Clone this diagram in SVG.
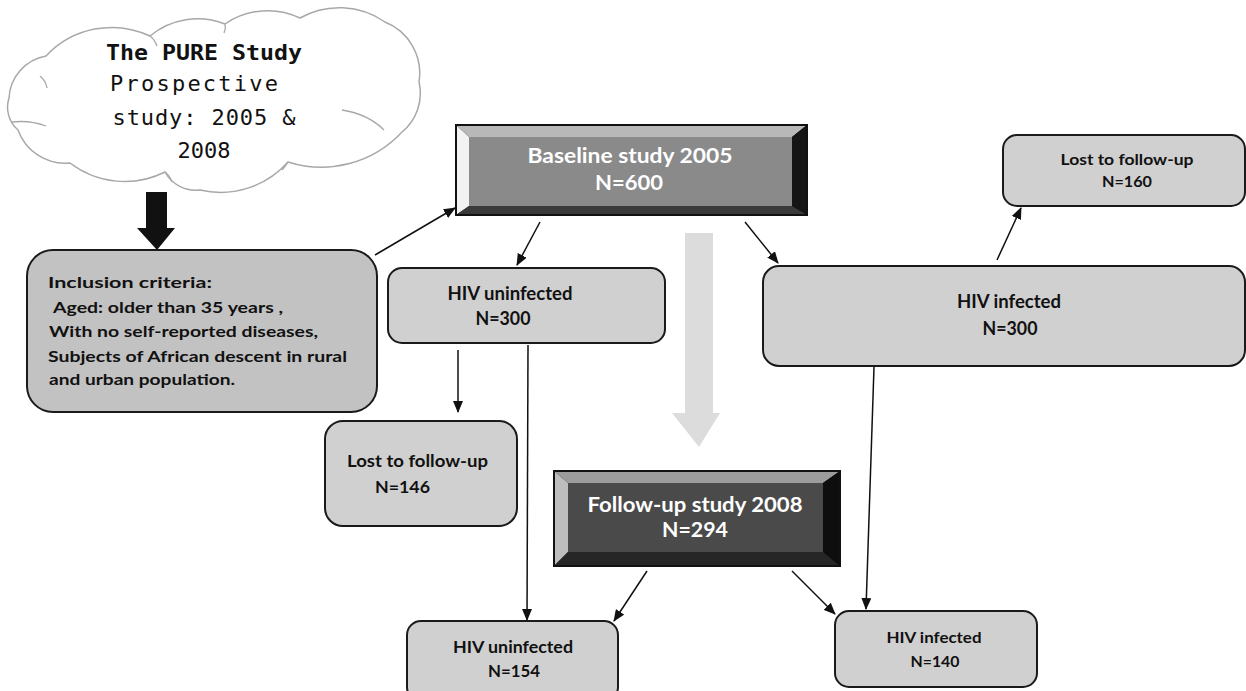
<svg xmlns="http://www.w3.org/2000/svg" width="1246" height="691" viewBox="0 0 1246 691">
<style>
  .box { fill: #d0d0d0; stroke: #1a1a1a; stroke-width: 2; }
  .incl { fill: #c2c2c2; stroke: #1a1a1a; stroke-width: 2; }
  .t { font-family: Lato, "Liberation Sans", sans-serif; font-weight: bold; fill: #111; }
  .tw { font-family: Lato, "Liberation Sans", sans-serif; font-weight: bold; fill: #ffffff; }
  .mono { font-family: "DejaVu Sans Mono", "Liberation Mono", monospace; fill: #111; font-size: 22px; }
  .conn { stroke: #111; stroke-width: 1.5; fill: none; marker-end: url(#ah); }
  .cloud { fill: #ffffff; stroke: #a8a8a8; stroke-width: 1.5; }
  .curl { fill: none; stroke: #a8a8a8; stroke-width: 1.3; }
</style>
<defs>
  <marker id="ah" markerUnits="userSpaceOnUse" markerWidth="12" markerHeight="10" refX="11" refY="5" orient="auto">
    <path d="M0,0 L12,5 L0,10 z" fill="#111"/>
  </marker>
</defs>
<rect width="1246" height="691" fill="#ffffff"/>

<g id="cloud">
  <path class="cloud" d="M18,130 A30,30 0 0 1 9,98 A45,45 0 0 1 46,56 A90,90 0 0 1 150,36 A75,75 0 0 1 225,24 A75,75 0 0 1 300,18 A80,80 0 0 1 385,22 A55,55 0 0 1 419,82 A50,50 0 0 1 402,132 A110,110 0 0 1 288,162 A90,90 0 0 1 200,190 A35,35 0 0 1 165,172 A90,90 0 0 1 70,163 A50,50 0 0 1 18,130 Z"/>
  <path class="curl" d="M12,122 Q30,120 46,126"/>
  <path class="curl" d="M40,76 Q46,81 47,88"/>
  <path class="curl" d="M150,36 Q155,40 157,46"/>
  <path class="curl" d="M225,24 Q226,29 224,33"/>
  <path class="curl" d="M342,110 Q368,114 384,130"/>
  <path class="curl" d="M288,162 Q285,167 282,170"/>
  <path class="curl" d="M165,172 Q170,176 172,182"/>
  <text class="mono" x="204" y="60" text-anchor="middle" font-weight="bold" textLength="196" lengthAdjust="spacingAndGlyphs">The PURE Study</text>
  <text class="mono" x="194" y="91" text-anchor="middle" textLength="168" lengthAdjust="spacing">Prospective</text>
  <text class="mono" x="204" y="125" text-anchor="middle" textLength="183" lengthAdjust="spacing">study: 2005 &amp;</text>
  <text class="mono" x="204" y="158" text-anchor="middle">2008</text>
</g>

<g id="thick-arrow">
  <polygon points="146,192 167,192 167,228 175,228 157,250 137,228 146,228" fill="#111"/>
</g>

<g id="inclusion">
  <rect class="incl" x="27" y="250" width="350" height="162" rx="26" ry="26"/>
  <text class="t" font-size="16" x="48" y="288" textLength="164" lengthAdjust="spacingAndGlyphs">Inclusion criteria:</text>
  <text class="t" font-size="16" x="53" y="313" textLength="230" lengthAdjust="spacingAndGlyphs">Aged: older than 35 years ,</text>
  <text class="t" font-size="16" x="49" y="337" textLength="269" lengthAdjust="spacingAndGlyphs">With no self-reported diseases,</text>
  <text class="t" font-size="16" x="48" y="362" textLength="299" lengthAdjust="spacingAndGlyphs">Subjects of African descent in rural</text>
  <text class="t" font-size="16" x="49" y="385" textLength="186" lengthAdjust="spacingAndGlyphs">and urban population.</text>
</g>

<g id="baseline">
  <rect x="456" y="125" width="351" height="90" fill="#111"/>
  <rect x="469" y="137" width="323" height="69" fill="#8a8a8a"/>
  <polygon points="456,125 807,125 792,137 469,137" fill="#b8b8b8"/>
  <polygon points="456,125 469,137 469,206 456,215" fill="#f2f2f2"/>
  <polygon points="807,125 807,215 792,206 792,137" fill="#151515"/>
  <polygon points="456,215 807,215 792,206 469,206" fill="#3a3a3a"/>
  <rect x="456" y="125" width="351" height="90" fill="none" stroke="#111" stroke-width="2"/>
  <text class="tw" font-size="21" x="630" y="163" text-anchor="middle" textLength="205" lengthAdjust="spacingAndGlyphs">Baseline study 2005</text>
  <text class="tw" font-size="21" x="629" y="190" text-anchor="middle" textLength="68" lengthAdjust="spacingAndGlyphs">N=600</text>
</g>

<g id="hiv-uninfected-300">
  <rect class="box" x="388" y="268" width="277" height="75" rx="14" ry="14"/>
  <text class="t" font-size="18" x="510" y="300" text-anchor="middle" textLength="125" lengthAdjust="spacingAndGlyphs">HIV uninfected</text>
  <text class="t" font-size="18" x="503" y="325" text-anchor="middle" textLength="55" lengthAdjust="spacingAndGlyphs">N=300</text>
</g>

<g id="hiv-infected-300">
  <rect class="box" x="763" y="266" width="482" height="100" rx="16" ry="16"/>
  <text class="t" font-size="18" x="1009" y="308" text-anchor="middle" textLength="104" lengthAdjust="spacingAndGlyphs">HIV infected</text>
  <text class="t" font-size="18" x="1010" y="335" text-anchor="middle" textLength="55" lengthAdjust="spacingAndGlyphs">N=300</text>
</g>

<g id="lost-160">
  <rect class="box" x="1003" y="135" width="242" height="71" rx="14" ry="14"/>
  <text class="t" font-size="16" x="1127" y="165" text-anchor="middle" textLength="133" lengthAdjust="spacingAndGlyphs">Lost to follow-up</text>
  <text class="t" font-size="16" x="1127" y="187" text-anchor="middle" textLength="50" lengthAdjust="spacingAndGlyphs">N=160</text>
</g>

<g id="lost-146">
  <rect class="box" x="325" y="421" width="192" height="105" rx="18" ry="18"/>
  <text class="t" font-size="17" x="347" y="467" textLength="141" lengthAdjust="spacingAndGlyphs">Lost to follow-up</text>
  <text class="t" font-size="17" x="375" y="493" textLength="55" lengthAdjust="spacingAndGlyphs">N=146</text>
</g>

<g id="followup">
  <rect x="554" y="471" width="286" height="95" fill="#111"/>
  <rect x="568" y="483" width="255" height="69" fill="#4a4a4a"/>
  <polygon points="554,471 840,471 823,483 568,483" fill="#9c9c9c"/>
  <polygon points="554,471 568,483 568,552 554,566" fill="#bdbdbd"/>
  <polygon points="840,471 840,566 823,552 823,483" fill="#0e0e0e"/>
  <polygon points="554,566 840,566 823,552 568,552" fill="#262626"/>
  <rect x="554" y="471" width="286" height="95" fill="none" stroke="#111" stroke-width="2"/>
  <text class="tw" font-size="21" x="695" y="512" text-anchor="middle" textLength="215" lengthAdjust="spacingAndGlyphs">Follow-up study 2008</text>
  <text class="tw" font-size="21" x="695" y="537" text-anchor="middle" textLength="66" lengthAdjust="spacingAndGlyphs">N=294</text>
</g>

<g id="hiv-uninfected-154">
  <rect class="box" x="407" y="621" width="211" height="80" rx="14" ry="14"/>
  <text class="t" font-size="17" x="513" y="653" text-anchor="middle" textLength="120" lengthAdjust="spacingAndGlyphs">HIV uninfected</text>
  <text class="t" font-size="17" x="514" y="677" text-anchor="middle" textLength="52" lengthAdjust="spacingAndGlyphs">N=154</text>
</g>

<g id="hiv-infected-140">
  <rect class="box" x="835" y="611" width="202" height="76" rx="14" ry="14"/>
  <text class="t" font-size="16" x="934" y="643" text-anchor="middle" textLength="95" lengthAdjust="spacingAndGlyphs">HIV infected</text>
  <text class="t" font-size="16" x="935" y="667" text-anchor="middle" textLength="49" lengthAdjust="spacingAndGlyphs">N=140</text>
</g>

<g id="connectors">
  <polygon points="685,233 713,233 713,413 720,413 699,447 672,413 685,413" fill="#d8d8d8" opacity="0.9"/>
  <line class="conn" x1="375" y1="255" x2="455" y2="208"/>
  <line class="conn" x1="540" y1="222" x2="517" y2="265"/>
  <line class="conn" x1="745" y1="222" x2="778" y2="263"/>
  <line class="conn" x1="997" y1="260" x2="1021" y2="208"/>
  <line class="conn" x1="458" y1="350" x2="458" y2="412"/>
  <line class="conn" x1="528" y1="345" x2="527" y2="620"/>
  <line class="conn" x1="874" y1="367" x2="866" y2="609"/>
  <line class="conn" x1="647" y1="571" x2="614" y2="621"/>
  <line class="conn" x1="792" y1="571" x2="835" y2="614"/>
</g>
</svg>
